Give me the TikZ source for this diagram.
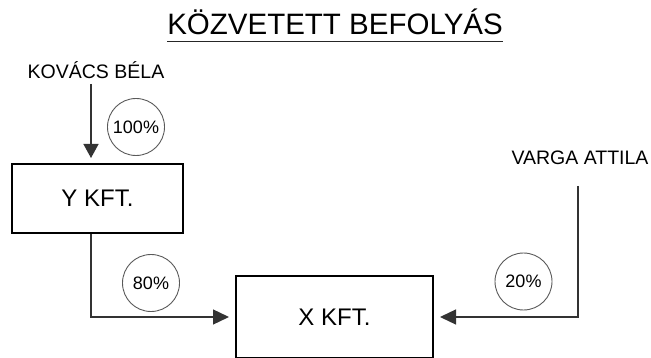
\documentclass[tikz,border=0pt]{standalone}
\usepackage{fontspec}
\setmainfont{Liberation Sans}
\usetikzlibrary{arrows.meta}

\tikzset{
  firm/.style={draw, line width=2pt, minimum width=171pt, minimum height=69pt, font=\fontsize{24}{26}\selectfont},
  share/.style={circle, draw=black!65, line width=0.9pt, minimum size=57pt, inner sep=0pt, font=\fontsize{18}{20}\selectfont},
  owner/.style={font=\fontsize{19.5}{22}\selectfont},
  link/.style={line width=1.3pt, draw=black!80, -{Triangle[length=16pt, width=15pt]}}
}

\begin{document}
\begin{tikzpicture}[x=1pt, y=-1pt]
  \useasboundingbox (0,0) rectangle (651,358);

  %Define nodes
  \node[inner sep=0pt, font=\fontsize{29.5}{32}\selectfont] (title) at (335,22) {KÖZVETETT BEFOLYÁS};
  \node[owner] (kovacs) at (96,70) {KOVÁCS BÉLA};
  \node[owner] (varga) at (580,158) {VARGA ATTILA};
  \node[firm] (y) at (97.5,198.5) {Y KFT.};
  \node[firm, minimum width=197pt, minimum height=82pt] (x) at (334.5,317) {X KFT.};
  \node[share] (p100) at (136,127) {100\%};
  \node[share] (p80) at (151,283) {80\%};
  \node[share] (p20) at (523.5,281.5) {20\%};
  \coordinate (kovacsfoot) at (91,84);
  \coordinate (vargafoot) at (578,186);

  % Underline of the title
  \draw[line width=1.4pt, black!85] ([yshift=-7pt]title.base west) -- ([yshift=-7pt]title.base east);

  % Connect the nodes
  \draw[link, -{Triangle[length=14pt, width=15pt]}] (kovacsfoot) -- (91,158);
  \draw[link] (y.south -| kovacsfoot) |- ([xshift=-6pt]x.west);
  \draw[link] (vargafoot) |- ([xshift=6pt]x.east);

\end{tikzpicture}
\end{document}
